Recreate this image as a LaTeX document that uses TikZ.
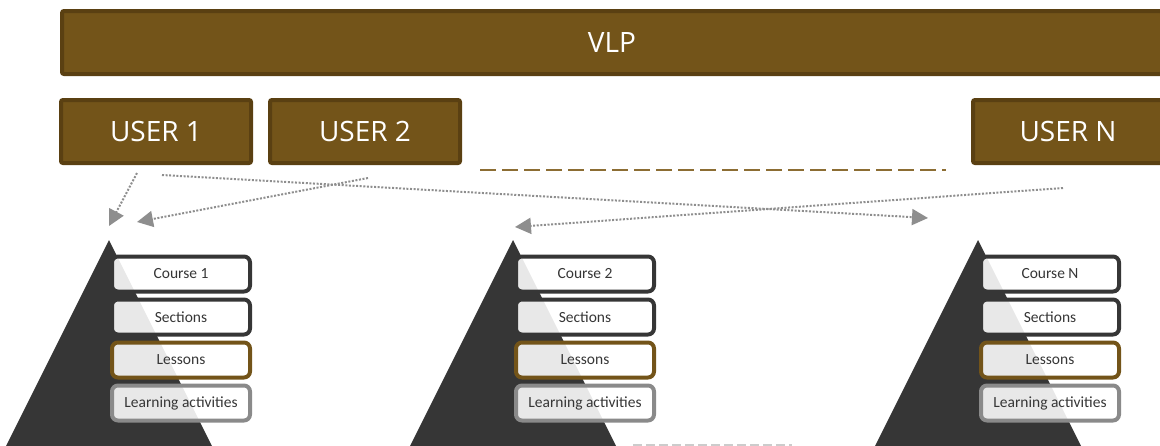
\documentclass[tikz,border=0pt]{standalone}
\usepackage{fontspec}
\setmainfont{Open Sans}
\newfontfamily\boxfont{Carlito}
\usepackage{xcolor}
\usepackage{tikz}
\usetikzlibrary{positioning,arrows.meta}

\definecolor{vlpbrown}{HTML}{735419}
\definecolor{vlpedge}{HTML}{5A4012}
\definecolor{dashbrown}{HTML}{8C6D33}
\definecolor{pyrgray}{HTML}{363636}
\definecolor{linkgray}{HTML}{8E8E8E}
\definecolor{actgray}{HTML}{8A8A8A}

\tikzset{
  bar/.style={draw=vlpedge,fill=vlpbrown,line width=4pt,text=white,inner sep=0pt,
    rounded corners=2pt,font=\fontsize{28}{30}\selectfont},
  user/.style={bar,minimum width=190pt,minimum height=63pt},
  level/.style={draw=#1,line width=4pt,fill=white,fill opacity=0.89,text opacity=1,
    text=pyrgray,rounded corners=6pt,minimum width=138pt,minimum height=35pt,
    inner sep=0pt,font=\boxfont\fontsize{15.5}{17}\selectfont},
  link/.style={draw=linkgray,line width=2pt,dash pattern=on 2pt off 1.6pt,
    -{Triangle[length=16pt,width=16pt]}},
}

\begin{document}
\begin{tikzpicture}[x=1pt,y=-1pt]
  \clip (0,0) rectangle (1160,445);

  % platform and users
  \node[bar,minimum width=1100pt,minimum height=63pt] (vlp) at (612,42.5) {VLP};
  \node[user] (u1) at (156,131.5) {USER 1};
  \node[user,right=15pt of u1] (u2) {USER 2};
  \node[user] (un) at (1068,131.5) {USER N};
  \draw[dashbrown,line width=2.5pt,dash pattern=on 16pt off 6pt] (480,170) -- (946,170);

  % one pyramid per course
  \foreach \cx/\k/\title in {181/1/Course 1, 585/2/Course 2, 1050/n/Course N} {
    \fill[pyrgray] (\cx-72,240) -- (\cx-72+115,470) -- (\cx-72-115,470) -- cycle;
    \node[level=pyrgray] (c\k) at (\cx,274) {\title};
    \node[level=pyrgray,below=4pt of c\k] (s\k) {Sections};
    \node[level=vlpbrown,below=4pt of s\k] (l\k) {Lessons};
    \node[level=actgray,below=4pt of l\k] (a\k) {Learning activities};
  }
  \draw[black!20,line width=3pt,dash pattern=on 9pt off 4pt] (633,445) -- (792,445);

  % enrolments
  \coordinate (u1a) at (137,173);
  \coordinate (u1b) at (162,175);
  \coordinate (u2a) at (368,178);
  \coordinate (una) at (1063,188);
  \coordinate (top1a) at (109,226);
  \coordinate (top1b) at (137,222);
  \coordinate (top2) at (515,227);
  \coordinate (topn) at (928,218);
  \draw[link] (u1a) -- (top1a);
  \draw[link] (u1b) -- (topn);
  \draw[link] (u2a) -- (top1b);
  \draw[link] (una) -- (top2);
\end{tikzpicture}
\end{document}
